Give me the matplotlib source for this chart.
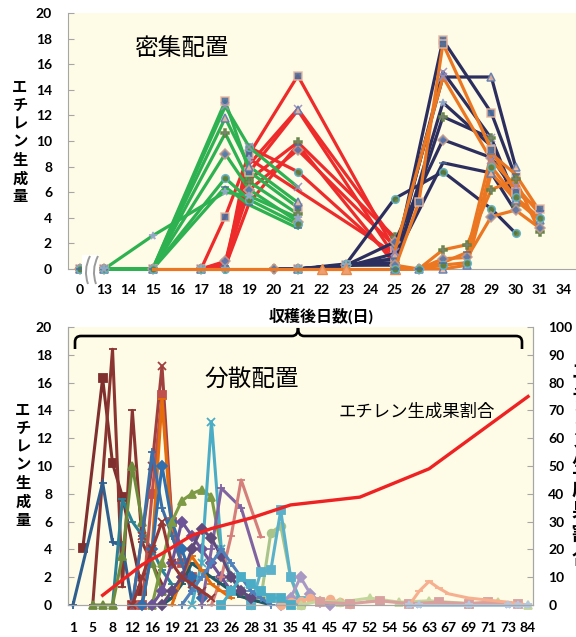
import matplotlib
matplotlib.use("Agg")
import matplotlib.pyplot as plt
from matplotlib.path import Path
from matplotlib.patches import PathPatch, Rectangle

plt.rcParams['font.family'] = ['Lato', 'Noto Sans CJK JP', 'DejaVu Sans']

W, H = 576, 637
fig = plt.figure(figsize=(W / 100, H / 100), dpi=100)


def fx(x):
    return x / W


def fy(y):
    return 1 - y / H


BG = '#FEFBE6'
SPINE = '#A6A6A6'

# ---------------- upper panel: 密集配置 ----------------
top_days = ['0', '13', '14', '15', '16', '17', '18', '19', '20', '21', '22',
            '23', '24', '25', '26', '27', '28', '29', '30', '31', '34']

green_days = ['0', '13', '15', '18', '19', '21']
green_vals = [
    [0, 0, 0, 13.1, 7.6, 4.8],
    [0, 0, 0, 12.7, 9.5, 6.4],
    [0, 0, 0, 11.8, 8.0, 5.2],
    [0, 0, 0, 10.6, 6.8, 4.3],
    [0, 0, 0, 9.0, 6.2, 3.7],
    [0, 0, 0, 7.1, 5.4, 3.5],
    [0, 0, 0, 6.4, 5.0, 3.2],
    [None, 0, 2.6, 6.0, 5.7, 4.0],
]

red_days = ['17', '18', '19', '21', '25']
red_vals = [
    [0, 4.1, 9.0, 15.1, 1.5],
    [0, 0.5, 8.2, 12.5, 2.2],
    [0, 0.3, 7.6, 12.4, 1.0],
    [0, 0, 7.0, 9.9, 2.5],
    [0, 0.6, 6.2, 9.3, 1.8],
    [0, 0, 9.5, 7.6, 0.8],
    [0, 0.2, 5.2, 9.7, 0.4],
    [0, 0, 8.6, None, 1.2],
]

navy_days = ['20', '21', '23', '25', '27', '29', '30']
navy_vals = [
    [None, 0, 0.3, 0.5, 17.9, 12.2, 7.2],
    [None, 0, 0.3, 0.8, 15.4, 10.2, 5.6],
    [None, 0, 0.2, 1.2, 15.0, 15.0, 8.0],
    [0, 0, 0.3, 0.4, 11.9, 10.2, 5.0],
    [0, 0, 0.3, 2.1, 10.1, 8.7, 6.0],
    [None, 0, 0.4, 5.5, 7.6, 4.7, 2.8],
    [0, 0, 0.3, 0.8, 8.3, 7.5, 4.5],
    [None, 0, 0.3, 0.3, 13.0, 9.6, 5.3],
]

orange_base_days = ['15', '17', '20', '21', '22', '23', '25']
orange_base_vals = [0, 0, 0, 0, 0, 0, 0]

orange_days = ['25', '26', '27', '28', '29', '30', '31']
orange_vals = [
    [0, 5.2, 17.6, None, 9.3, 6.0, 4.7],
    [1.3, None, 15.0, None, 8.5, 6.5, 4.3],
    [0, 0, 0, 0.3, 7.5, 5.4, 3.8],
    [0, 0, 1.5, 1.9, 6.2, 7.0, 2.9],
    [0.3, 0, 0.8, 0.9, 4.1, 4.6, 3.2],
    [0, 0, 0.3, 0.5, 8.0, 5.6, 4.0],
    [0, 0, 0.5, 1.3, 9.0, 7.4, 4.5],
]

marker_cycle = ['s', 'x', '^', 'P', 'D', 'o', '_', '*']
face_cycle = ['#4A6C9B', '#9AA8C8', '#E9B8A0', '#9C8CC0', '#5C79AE', '#5E7F3A',
              '#C49A8A', '#5FB3CB']

ax1 = fig.add_axes([fx(68), fy(269), fx(576) - fx(68), fy(13) - fy(269)])
ax1.set_facecolor(BG)


def draw_group(ax, days, vals, color, z):
    for i, row in enumerate(vals):
        xs = [top_days.index(d) for d, v in zip(days, row) if v is not None]
        ys = [v for v in row if v is not None]
        ax.plot(xs, ys, color=color, lw=2.3, zorder=z, clip_on=False)
        ax.plot(xs, ys, ls='none', zorder=z + 0.5, clip_on=False,
                marker=marker_cycle[i % len(marker_cycle)], ms=5.5,
                mfc=face_cycle[i % len(face_cycle)],
                mec=face_cycle[(i + 2) % len(face_cycle)], mew=1.1, alpha=0.9)


draw_group(ax1, red_days, red_vals, '#EE2B2B', 3)
draw_group(ax1, green_days, green_vals, '#2EB150', 4)
draw_group(ax1, navy_days, navy_vals, '#2C2F5E', 5)
bx = [top_days.index(d) for d in orange_base_days]
ax1.plot(bx, orange_base_vals, color='#EB7723', lw=2.3, zorder=6, clip_on=False)
ax1.plot(bx[4:], orange_base_vals[4:], ls='none', marker='^', ms=7,
         mfc='#F0A070', mec='#E98A4A', zorder=6, clip_on=False)
draw_group(ax1, orange_days, orange_vals, '#EB7723', 7)

ax1.set_xlim(-0.5, 20.5)
ax1.set_ylim(0, 20)
ax1.set_yticks(range(0, 21, 2))
ax1.set_xticks(range(len(top_days)))
ax1.set_xticklabels(top_days)
for s in ['top', 'right']:
    ax1.spines[s].set_visible(False)
for s in ['left', 'bottom']:
    ax1.spines[s].set_color(SPINE)
ax1.tick_params(axis='y', direction='in', length=4, color=SPINE, pad=11.5,
                labelsize=10)
ax1.tick_params(axis='x', length=0, pad=11, labelsize=10)
for t in ax1.get_xticklabels() + ax1.get_yticklabels():
    t.set_fontweight('bold')
fig.text(fx(181), fy(49), '密集配置', fontsize=17, ha='center', va='center')

# axis break symbol between 0 and 13
fig.patches.append(Rectangle((fx(82), fy(285)), fx(17), fy(255) - fy(285),
                             transform=fig.transFigure, facecolor='white',
                             edgecolor='none', zorder=20))
for dx in (0, 8):
    verts = [(fx(90 + dx), fy(256)), (fx(83 + dx), fy(270)), (fx(88 + dx), fy(284))]
    fig.patches.append(PathPatch(Path(verts, [Path.MOVETO, Path.CURVE3, Path.CURVE3]),
                                 transform=fig.transFigure, fill=False,
                                 edgecolor='#9A9A9A', lw=1.4, zorder=21))

# ---------------- lower panel: 分散配置 ----------------
bottom_labels = ['1', '5', '8', '12', '16', '19', '21', '23', '26', '28', '31', '35',
                 '41', '45', '47', '52', '54', '56', '63', '67', '69', '71', '73', '84']

b_x = [
    [1, 3, 4, 5, 7],
    [2, 4, 5, 6, 7, 9],
    [0, 3, 4, 5, 6],
    [4, 5, 6, 7, 8, 9, 10],
    [2, 3, 4, 5, 6, 7, 8, 9],
    [6, 7, 8, 9, 10, 11],
    [6, 7, 8, 9, 10, 11, 12],
    [7, 8, 9, 10, 11, 12],
    [6, 7, 8, 9, 10, 11, 12],
    [7, 8, 9, 10, 11, 12, 13],
    [8, 9, 10, 11, 12, 13, 14, 15, 16, 17, 18],
    [8, 9, 10, 11, 12, 13, 14, 15, 16],
    [12, 13, 14, 15, 16, 17, 18],
    [13, 14, 15, 17, 19],
    [14, 15, 16, 17, 19],
    [18, 19, 20, 21, 22, 23],
    [18, 19, 20, 21, 22, 23],
    [21, 22, 23, 24, 25, 26],
    [21, 22, 23, 24, 25, 26, 27, 28],
    [23, 25, 27, 30, 33, 36, 40, 43, 46],
    [25, 28, 31, 34, 37, 40, 42, 45],
    [34, 35, 36, 37, 38, 40, 44, 46],
    [34, 35, 40, 44, 45, 46],
    [9, 10, 11, 12, 13, 14, 15, 16, 17, 18, 19, 20],
    [10, 11, 12, 13, 14, 15, 16],
    [9, 10, 11, 12, 13, 14, 15, 16, 17, 18],
    [11, 12, 13, 14, 15, 16, 17, 18, 19, 20],
    [15, 16, 17, 18, 19, 20, 21, 22],
    [6, 7, 8, 9, 10, 11, 12, 13, 14],
]
b_y = [
    [4.1, 16.3, 10.2, 7.8, 1.0],
    [0, 18.4, 1.3, 14.0, 4.5, 1.5],
    [0, 8.8, 4.5, 4.3, 0],
    [0, 7.6, 6.0, 5.0, 4.0, 2.5, 1.5],
    [0, 0, 0, 3.5, 10.0, 6.0, 3.0, 1.0],
    [0, 5.0, 10.0, 17.2, 6.0, 3.0],
    [0, 0, 8.0, 15.1, 6.0, 3.0, 2.0],
    [0, 4.0, 14.8, 5.0, 3.0, 2.0],
    [0, 5.0, 11.0, 7.0, 5.0, 3.0, 1.0],
    [0, 4.0, 10.0, 6.0, 4.0, 2.0, 0.5],
    [0, 3.0, 6.0, 7.5, 8.0, 8.3, 7.8, 4.0, 2.0, 1.0, 0],
    [0, 1.0, 3.0, 6.0, 5.0, 4.0, 3.0, 2.0, 1.0],
    [0, 3.0, 13.2, 4.0, 2.0, 1.0, 0.5],
    [0, 4.0, 8.4, 7.0, 2.3],
    [0, 2.0, 5.0, 9.0, 4.9],
    [0, 0.5, 5.2, 5.7, 2.0, 0],
    [0, 2.4, 2.5, 6.8, 2.0, 0.3],
    [0, 0.5, 2.0, 0.8, 0.2, 0],
    [0, 0.2, 0.3, 0.5, 0.3, 0.4, 0.2, 0.1],
    [0, 0.3, 0.2, 0.5, 0.2, 0.3, 0.1, 0.2, 0],
    [0.2, 0.1, 0.3, 0.1, 0.2, 0.1, 0.2, 0.1],
    [0, 1.0, 1.7, 1.2, 0.8, 0.5, 0.2, 0],
    [0, 0, 0, 0, 0, 0],
    [0, 0.5, 1.5, 3.0, 2.5, 2.0, 1.5, 1.0, 0.6, 0.4, 0.2, 0],
    [0, 2.0, 3.5, 2.5, 1.5, 1.0, 0.5],
    [0, 1.0, 2.0, 4.0, 5.5, 4.8, 3.5, 2.0, 1.0, 0.5],
    [0, 1.0, 2.0, 3.0, 4.0, 3.0, 2.0, 1.0, 0.5, 0],
    [0, 1.0, 2.0, 1.5, 1.0, 0.5, 0.5, 0],
    [0, 2.0, 4.0, 6.0, 3.0, 2.0, 1.5, 1.0, 0.5],
]
b_col = ['#7F2F2D', '#8B3533', '#2F5F8F', '#2B8196', '#6E8B3D', '#A0403E', '#C0504D',
         '#E46C0A', '#3C6EA8', '#2F6FB0', '#7D9A45', '#6D5499', '#4BACC6', '#8064A2',
         '#D47F7C', '#A8C48A', '#5BB1C9', '#A899C4', '#F4AE8C', '#C3D69B', '#D8A09E',
         '#F7B08F', '#B4C8E4', '#215968', '#E46C0A', '#604A7B', '#4F81BD', '#4BACC6',
         '#953735']
b_mk = ['s', '_', '+', '_', '^', 'x', 's', '_', '+', 'D', '^', 'D', 'x', '+', '_',
        'o', 's', 'D', 'o', '^', 's', '_', '*', '_', '_', 'D', '+', 's', 'x']

ratio_x = [3, 5, 7, 9, 12, 14, 18, 22, 29, 36, 46]
ratio_y = [3.5, 9.0, 14.5, 18.5, 25.0, 27.5, 31.3, 36.0, 38.8, 49.0, 75.0]

ax2 = fig.add_axes([fx(68), fy(605), fx(533) - fx(68), fy(327) - fy(605)])
ax2.set_facecolor(BG)
for xs, ys, c, m in zip(b_x, b_y, b_col, b_mk):
    ax2.plot(xs, ys, color=c, lw=2.2, marker=m, ms=5.5, mfc=c, mec=c, mew=1.3,
             clip_on=False)
ax2.set_xlim(-0.5, 46.5)
ax2.set_ylim(0, 20)
ax2.set_yticks(range(0, 21, 2))
ax2.set_xticks(range(0, 47, 2))
ax2.set_xticklabels(bottom_labels)
ax2.spines['top'].set_visible(False)
for s in ['left', 'bottom', 'right']:
    ax2.spines[s].set_color(SPINE)
ax2.tick_params(axis='y', direction='in', length=4, color=SPINE, pad=11.5, labelsize=10)
ax2.tick_params(axis='x', length=0, pad=12, labelsize=10)
for t in ax2.get_xticklabels() + ax2.get_yticklabels():
    t.set_fontweight('bold')

ax2r = ax2.twinx()
ax2r.plot(ratio_x, ratio_y, color='#EE2222', lw=2.4)
ax2r.set_ylim(0, 100)
ax2r.set_yticks(range(0, 101, 10))
ax2r.spines['top'].set_visible(False)
for s in ['left', 'bottom', 'right']:
    ax2r.spines[s].set_color(SPINE)
ax2r.tick_params(axis='y', direction='in', length=4, color=SPINE, pad=11, labelsize=10)
for t in ax2r.get_yticklabels():
    t.set_fontweight('bold')

fig.text(fx(252), fy(379), '分散配置', fontsize=17, ha='center', va='center')
fig.text(fx(417), fy(412), 'エチレン生成果割合', fontsize=12.5, ha='center', va='center')

# x-axis title and bracket
fig.text(fx(321), fy(316), '収穫後日数(日)', fontsize=11.5, fontweight='bold',
         ha='center', va='center')
br = [(75, 349), (75, 342), (75, 336), (81, 336), (292, 336), (298, 336), (298, 328),
      (298, 336), (304, 336), (516, 336), (522, 336), (522, 342), (522, 349)]
codes = [Path.MOVETO, Path.LINETO, Path.CURVE3, Path.CURVE3, Path.LINETO,
         Path.CURVE3, Path.CURVE3, Path.CURVE3, Path.CURVE3, Path.LINETO,
         Path.CURVE3, Path.CURVE3, Path.LINETO]
fig.patches.append(PathPatch(Path([(fx(a), fy(b)) for a, b in br], codes),
                             transform=fig.transFigure, fill=False,
                             edgecolor='black', lw=1.9, zorder=30))


# vertical axis titles, one character per row
def vertical_label(text, x, y0, step, size):
    for k, ch in enumerate(text):
        fig.text(fx(x), fy(y0 + k * step), ch, fontsize=size, fontweight='bold',
                 ha='center', va='center')


vertical_label('エチレン生成量', 20, 88, 18.2, 11)
vertical_label('エチレン生成量', 23, 411, 18.3, 11)
vertical_label('エチレン生成果割合', 581, 373, 23, 14)

fig.savefig('out.png', dpi=100)
